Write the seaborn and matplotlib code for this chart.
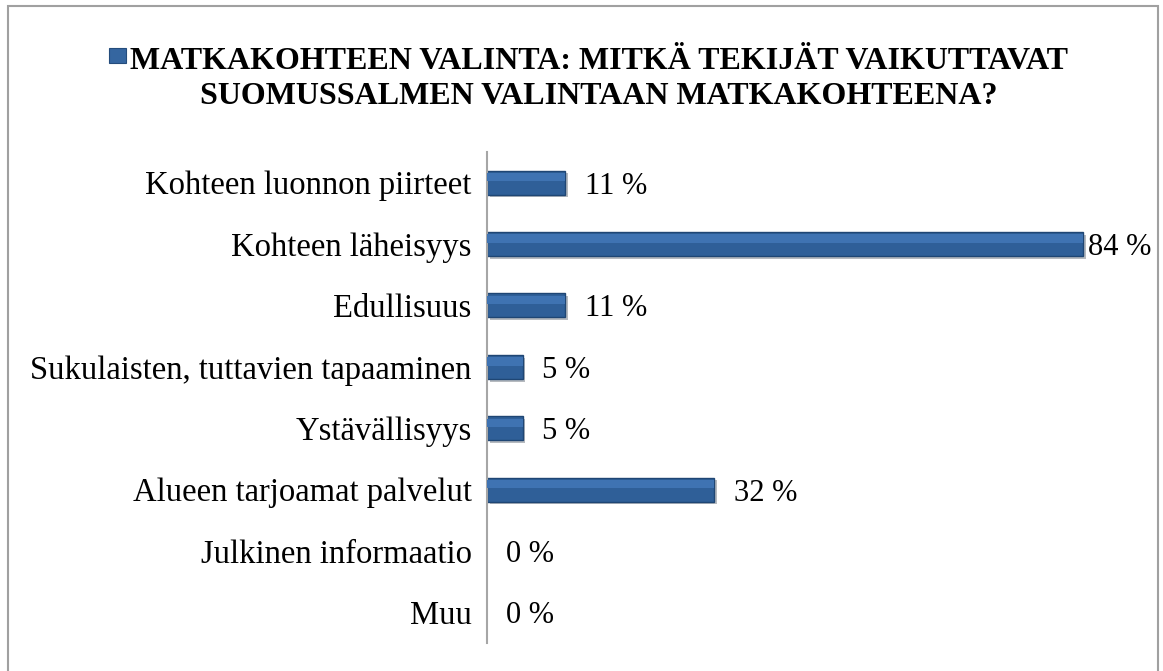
import matplotlib
matplotlib.use("Agg")
import matplotlib.pyplot as plt
import matplotlib.patches as mpatches
import matplotlib.patheffects as pe
import pandas as pd
import seaborn as sns

categories = [
    "Kohteen luonnon piirteet",
    "Kohteen läheisyys",
    "Edullisuus",
    "Sukulaisten, tuttavien tapaaminen",
    "Ystävällisyys",
    "Alueen tarjoamat palvelut",
    "Julkinen informaatio",
    "Muu",
]
values = [11, 84, 11, 5, 5, 32, 0, 0]
title = "MATKAKOHTEEN VALINTA: MITKÄ TEKIJÄT VAIKUTTAVAT\nSUOMUSSALMEN VALINTAAN MATKAKOHTEENA?"

df = pd.DataFrame({"category": categories, "value": values})

sns.set_theme(style="white")
plt.rcParams["font.family"] = ["Liberation Serif", "DejaVu Serif"]

W, H = 1163, 671
fig = plt.figure(figsize=(W / 100, H / 100), dpi=100)
ax = fig.add_axes([487 / W, 1 - 643 / H, 639 / W, 491 / H])

sns.barplot(data=df, x="value", y="category", orient="h", color="#2F5F98",
            width=0.39, saturation=1, edgecolor="#1F4674", linewidth=1.0, ax=ax)

# bevel-ish look: shadow + lighter upper band derived from each bar
for p in list(ax.patches):
    if p.get_width() <= 0:
        p.set_visible(False)
        continue
    p.set_path_effects([pe.SimplePatchShadow(offset=(2, -2), alpha=0.3), pe.Normal()])
    ax.add_patch(mpatches.Rectangle((p.get_x(), p.get_y() + p.get_height() * 0.1),
                                    p.get_width(), p.get_height() * 0.35,
                                    facecolor="#3F73B2", edgecolor="none", zorder=3))

vmax = max(values)
for p, v in zip(ax.patches, values):
    ax.annotate(f"{v} %", (p.get_width(), p.get_y() + p.get_height() / 2),
                xytext=(3 if v == vmax else 14, 0), textcoords="offset points",
                ha="left", va="center_baseline", fontsize=22, color="black")

ax.set_xlim(0, 90)
ax.set_ylim(7.5, -0.5)
ax.set_xlabel("")
ax.set_ylabel("")
ax.set_xticks([])
ax.tick_params(axis="y", length=0, pad=11, labelsize=23.5, labelcolor="black")
for side in ["top", "right", "bottom"]:
    ax.spines[side].set_visible(False)
ax.spines["left"].set_color("#A6A6A6")
ax.spines["left"].set_linewidth(1.5)

# title with small legend marker
fig.text(599 / W, 1 - 79 / H, title, ha="center", va="center", color="black",
         fontsize=23, fontweight="bold", linespacing=1.3)
fig.patches.append(mpatches.Rectangle((109 / W, 1 - 63 / H), 17 / W, 15 / H,
                                      transform=fig.transFigure, facecolor="#3566A0",
                                      edgecolor="#244C7C", linewidth=0.8))

# outer chart border (open at the bottom edge of the image)
fig.patches.append(mpatches.Rectangle((8 / W, -0.02), 1150 / W, 1.02 - 6 / H,
                                      transform=fig.transFigure, fill=False,
                                      edgecolor="#A0A0A0", linewidth=1.5))

fig.savefig("out.png", dpi=100)
